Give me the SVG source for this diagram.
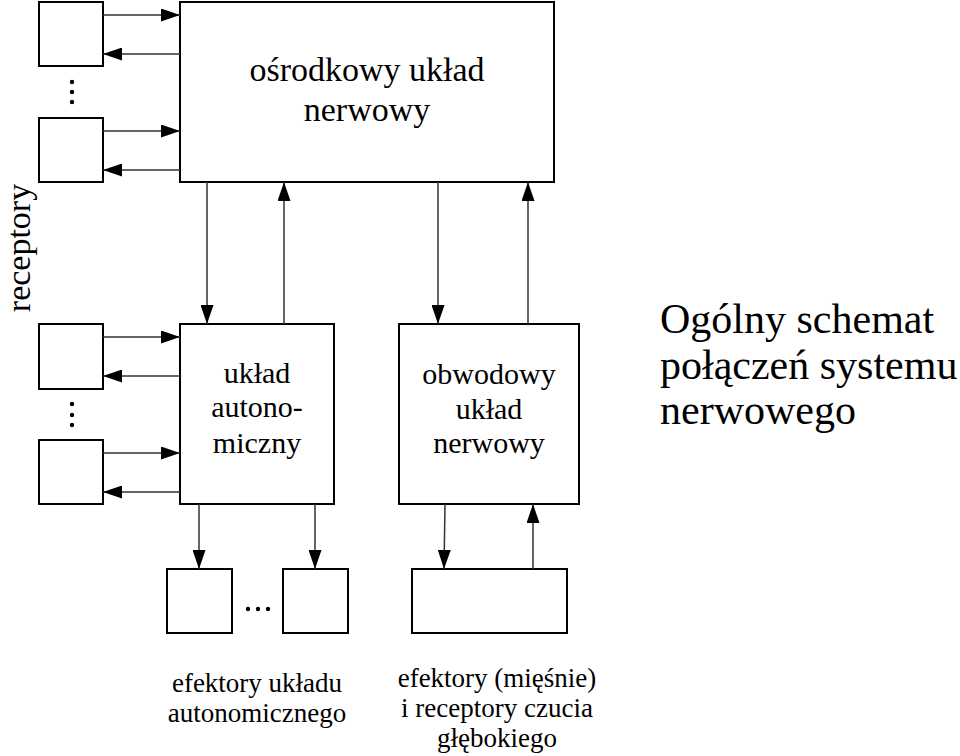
<svg xmlns="http://www.w3.org/2000/svg" width="960" height="756" viewBox="0 0 960 756">
<defs>
<marker id="ah" viewBox="0 0 19 13" refX="19" refY="6.5" markerWidth="19" markerHeight="13" markerUnits="userSpaceOnUse" orient="auto">
<path d="M0,0 L19,6.5 L0,13 Z" fill="#000"/>
</marker>
</defs>
<style>
.box{fill:#fff;stroke:#000;stroke-width:2}
.ln{fill:none;stroke:#333;stroke-width:1.5;marker-end:url(#ah)}
text{font-family:"Liberation Serif","Times New Roman",serif;fill:#000}
.c{text-anchor:middle}
.dot{fill:#000}
</style>
<rect width="960" height="756" fill="#fff"/>
<g id="receptory-label"><text x="30" y="248" font-size="34" class="c" transform="rotate(-90 30 248)">receptory</text></g>
<g id="r1"><rect class="box" x="39" y="2" width="64" height="64"/></g>
<g id="r2"><rect class="box" x="39" y="118" width="64" height="64"/></g>
<g id="dots1"><circle class="dot" cx="72" cy="82" r="2.2"/><circle class="dot" cx="72" cy="92" r="2.2"/><circle class="dot" cx="72" cy="102" r="2.2"/></g>
<g id="r3"><rect class="box" x="39" y="324" width="64" height="65"/></g>
<g id="r4"><rect class="box" x="39" y="440" width="64" height="64"/></g>
<g id="dots2"><circle class="dot" cx="72" cy="404" r="2.2"/><circle class="dot" cx="72" cy="415" r="2.2"/><circle class="dot" cx="72" cy="425" r="2.2"/></g>
<g id="cns"><rect class="box" x="180" y="2" width="374" height="180"/>
<text x="367" y="81" font-size="34" class="c">ośrodkowy układ</text>
<text x="367" y="121" font-size="34" class="c">nerwowy</text></g>
<g id="auto"><rect class="box" x="180" y="324" width="154" height="180"/>
<text x="257" y="383" font-size="30" class="c">układ</text>
<text x="257" y="417" font-size="30" class="c">autono-</text>
<text x="257" y="453" font-size="30" class="c">miczny</text></g>
<g id="obw"><rect class="box" x="399" y="324" width="180" height="180"/>
<text x="489" y="384" font-size="30" class="c">obwodowy</text>
<text x="489" y="419" font-size="30" class="c">układ</text>
<text x="489" y="453" font-size="30" class="c">nerwowy</text></g>
<g id="e1"><rect class="box" x="167" y="569" width="65" height="64"/></g>
<g id="e2"><rect class="box" x="283" y="569" width="65" height="64"/></g>
<g id="dots3"><circle class="dot" cx="248" cy="609" r="2.2"/><circle class="dot" cx="258" cy="609" r="2.2"/><circle class="dot" cx="268" cy="609" r="2.2"/></g>
<g id="e3"><rect class="box" x="412" y="569" width="155" height="64"/></g>
<g id="connectors">
<line class="ln" x1="103" y1="15" x2="180" y2="15"/>
<line class="ln" x1="180" y1="54" x2="103" y2="54"/>
<line class="ln" x1="103" y1="131" x2="180" y2="131"/>
<line class="ln" x1="180" y1="170" x2="103" y2="170"/>
<line class="ln" x1="103" y1="337" x2="180" y2="337"/>
<line class="ln" x1="180" y1="376" x2="103" y2="376"/>
<line class="ln" x1="103" y1="453" x2="180" y2="453"/>
<line class="ln" x1="180" y1="492" x2="103" y2="492"/>
<line class="ln" x1="207" y1="182" x2="207" y2="324"/>
<line class="ln" x1="284" y1="324" x2="284" y2="182"/>
<line class="ln" x1="438" y1="182" x2="438" y2="324"/>
<line class="ln" x1="528" y1="324" x2="528" y2="182"/>
<line class="ln" x1="199" y1="504" x2="199" y2="569"/>
<line class="ln" x1="315" y1="504" x2="315" y2="569"/>
<line class="ln" x1="445" y1="504" x2="444" y2="569"/>
<line class="ln" x1="533" y1="569" x2="533" y2="504"/>
</g>
<g id="title">
<text x="660" y="333" font-size="42">Ogólny schemat</text>
<text x="660" y="379" font-size="42">połączeń systemu</text>
<text x="660" y="424" font-size="42">nerwowego</text>
</g>
<g id="labels">
<text x="257" y="692" font-size="27" class="c">efektory układu</text>
<text x="257" y="722" font-size="27" class="c">autonomicznego</text>
<text x="497" y="687" font-size="27" class="c">efektory (mięśnie)</text>
<text x="497" y="717" font-size="27" class="c">i receptory czucia</text>
<text x="497" y="747" font-size="27" class="c">głębokiego</text>
</g>
</svg>
